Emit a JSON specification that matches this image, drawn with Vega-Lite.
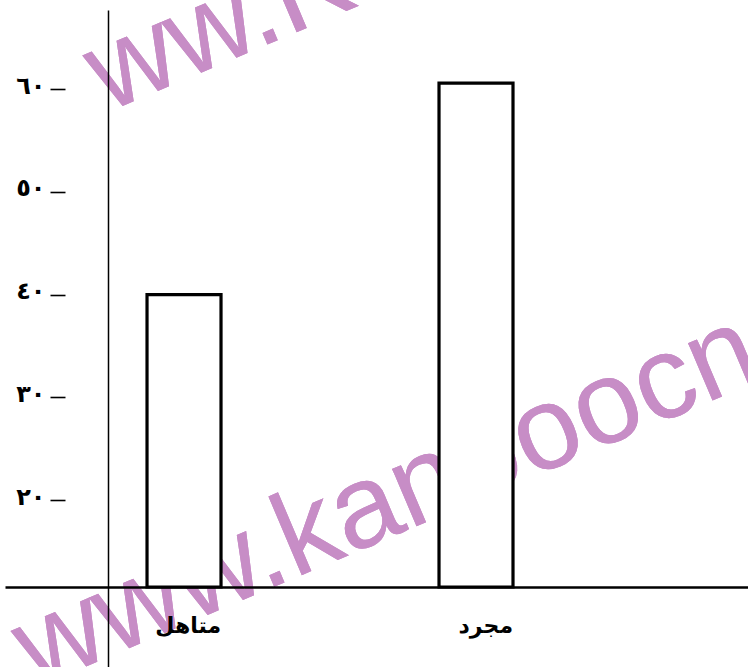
{
  "$schema": "https://vega.github.io/schema/vega-lite/v6.json",
  "width": 743,
  "height": 657,
  "autosize": {"type": "none"},
  "padding": {"left": 5, "top": 10, "right": 0, "bottom": 0},
  "background": "white",
  "config": {"view": {"stroke": null}},
  "data": {"values": [
    {"status": "متاهل", "value": 40},
    {"status": "مجرد", "value": 60.6}
  ]},
  "resolve": {"axis": {"y": "independent"}},
  "layer": [
    {
      "mark": {"type": "text", "text": "ww.Kanoon", "font": "Liberation Sans", "fontSize": 118, "color": "#c78dc6", "angle": -23, "align": "left", "baseline": "alphabetic", "dx": -84},
      "encoding": {
        "x": {"datum": "متاهل", "type": "nominal"},
        "y": {"datum": 60.9, "type": "quantitative",
          "axis": {"orient": "left", "offset": -60, "domain": false, "ticks": true, "tickSize": 15, "tickWidth": 1.6, "tickColor": "black",
            "values": [20, 30, 40, 50, 60], "labelExpr": "datum.value == 20 ? '٢٠' : datum.value == 30 ? '٣٠' : datum.value == 40 ? '٤٠' : datum.value == 50 ? '٥٠' : '٦٠'",
            "labelFont": "DejaVu Sans", "labelFontWeight": "bold", "labelFontSize": 24, "labelColor": "black", "labelPadding": 5, "labelBaseline": "middle", "labelOffset": -3,
            "grid": false, "title": null, "zindex": 1}}
      }
    },
    {
      "mark": {"type": "text", "text": "www.kanooocn", "font": "Liberation Sans", "fontSize": 118, "color": "#c78dc6", "angle": -23, "align": "left", "baseline": "alphabetic", "dx": -162},
      "encoding": {
        "x": {"datum": "متاهل", "type": "nominal"},
        "y": {"datum": 7.83, "type": "quantitative", "axis": null}
      }
    },
    {
      "mark": {"type": "bar", "fill": "white", "stroke": "black", "strokeWidth": 3.2},
      "encoding": {
        "x": {"field": "status", "type": "nominal", "sort": null,
          "scale": {"paddingInner": 0.7466, "paddingOuter": 0.6456, "align": 0.3767},
          "axis": {"orient": "bottom", "offset": -80, "domain": true, "domainColor": "black", "domainWidth": 2.5, "ticks": false,
            "labelAngle": 0, "labelFont": "DejaVu Sans", "labelFontWeight": "bold", "labelFontSize": 22, "labelColor": "black",
            "labelPadding": 38, "labelOffset": 37, "grid": false, "title": null, "zindex": 1}},
        "y": {"field": "value", "type": "quantitative",
          "scale": {"domain": [3.74, 67.72], "nice": false, "zero": false},
          "axis": {"orient": "left", "offset": -103, "domain": true, "domainColor": "black", "domainWidth": 1.5, "ticks": false, "labels": false, "grid": false, "title": null, "zindex": 1}},
        "y2": {"datum": 11.53}
      }
    }
  ]
}
